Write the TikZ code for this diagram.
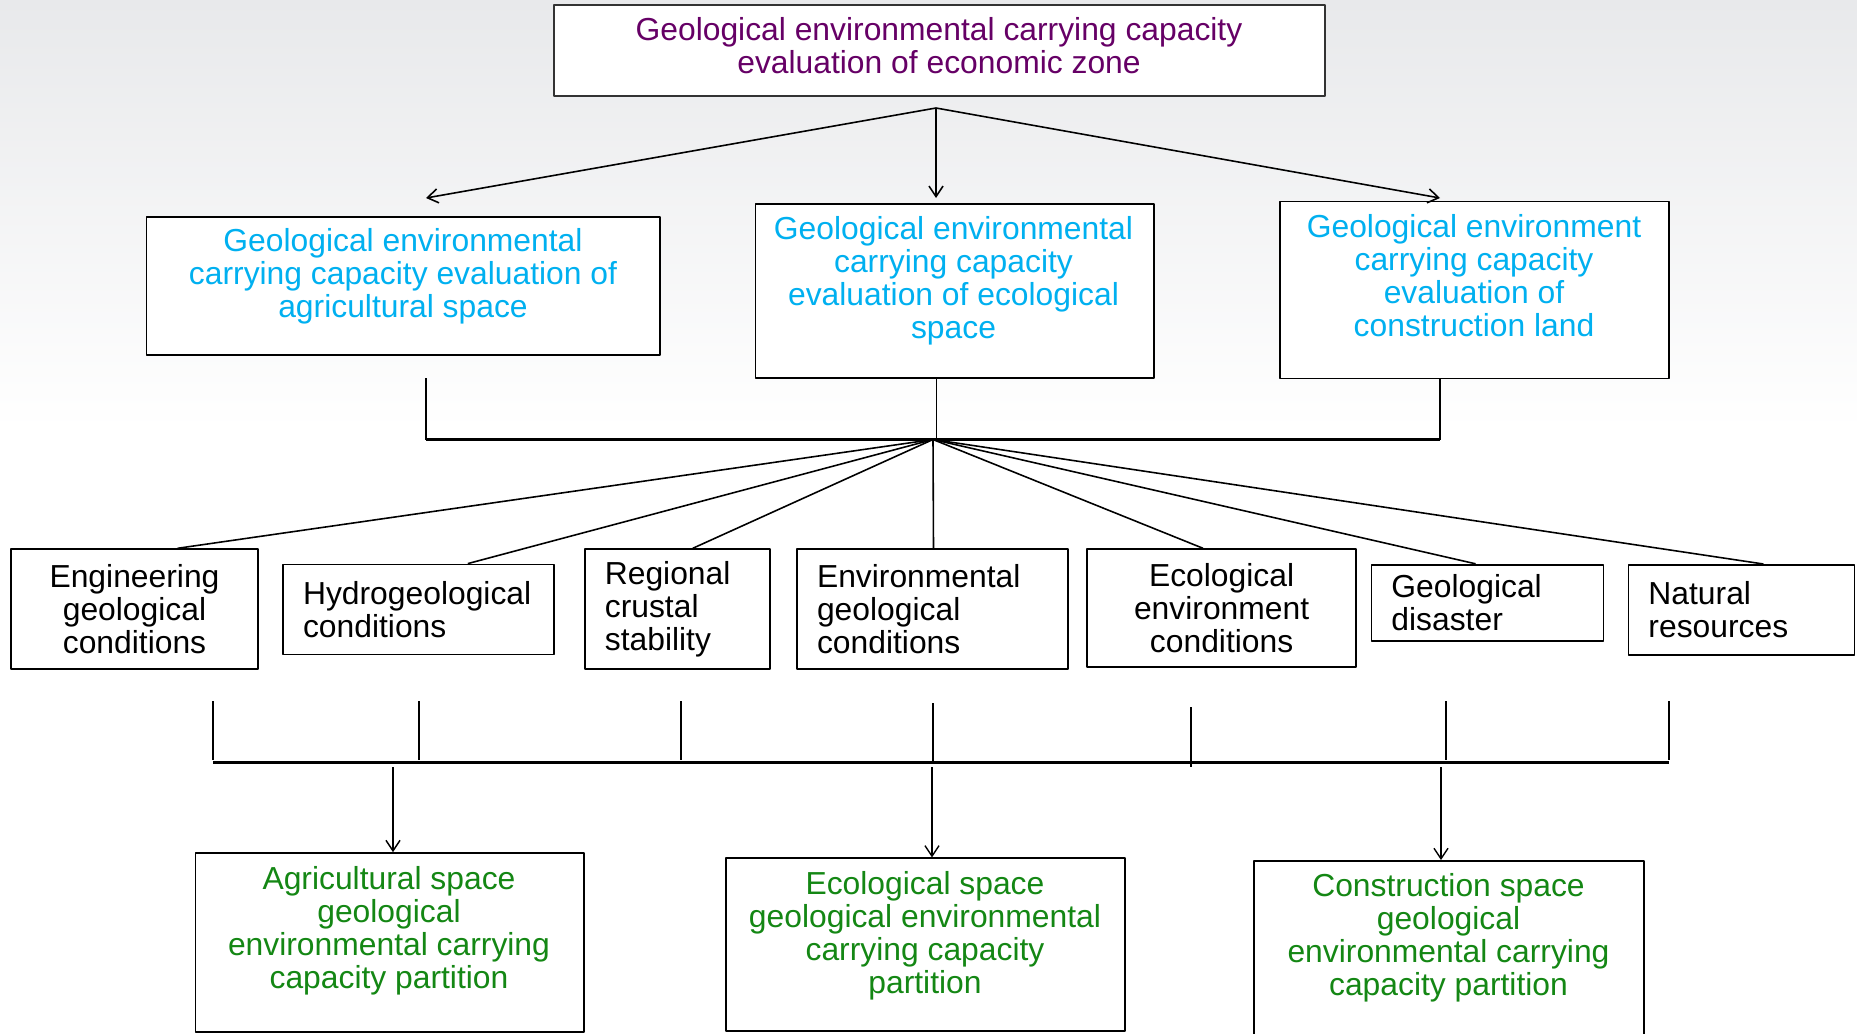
\documentclass[tikz,border=0pt]{standalone}
\usepackage{fontspec}
\setmainfont{Liberation Sans}
\usetikzlibrary{arrows.meta}
\definecolor{zonepurple}{RGB}{102,0,102}
\definecolor{evalcyan}{RGB}{0,176,240}
\definecolor{partgreen}{RGB}{20,135,20}
\definecolor{bgtop}{RGB}{232,233,235}
\tikzset{
  box/.style={draw,line width=0.5pt,fill=white,inner sep=0pt},
  txt/.style={align=center,inner sep=0pt},
  condbox/.style={draw,line width=0.5pt,fill=white,inner xsep=0.2cm,inner ysep=0pt},
  conn/.style={line width=0.45pt},
  bar/.style={line width=0.6pt},
}
\begin{document}
\begin{tikzpicture}[x=0.01cm,y=-0.01cm,>={Straight Barb[length=3pt,width=4pt]},line join=round,
  font=\fontsize{9.05pt}{9.39pt}\selectfont]
\useasboundingbox (0,0) rectangle (1857,1033);
\fill[top color=bgtop,bottom color=white] (0,0) rectangle (1857,430);
% top level
\node[box,draw=black!80,minimum width=7.71cm,minimum height=0.91cm] (zone) at (939.5,50.5) {};
\node[txt,zonepurple] (zone-t) at (939,46) {Geological environmental carrying capacity\\evaluation of economic zone};
% evaluation boxes
\node[box,minimum width=5.13cm,minimum height=1.38cm] (agri) at (403.2,285.8) {};
\node[txt,evalcyan] (agri-t) at (403,276.5) {Geological environmental\\carrying capacity evaluation of\\agricultural space};
\node[box,minimum width=3.98cm,minimum height=1.74cm] (eco) at (954.5,291) {};
\node[txt,evalcyan] (eco-t) at (953.5,281) {Geological environmental\\carrying capacity\\evaluation of ecological\\space};
\node[box,minimum width=3.89cm,minimum height=1.77cm] (cons) at (1474.3,290) {};
\node[txt,evalcyan] (cons-t) at (1474,275.5) {Geological environment\\carrying capacity\\evaluation of\\construction land};
\coordinate (fork) at (936,108);
\coordinate (agri-in) at (426,198);
\coordinate (eco-in) at (936,198);
\coordinate (cons-in) at (1440,198);
\foreach \t in {agri-in,eco-in,cons-in}
  \draw[->,conn] (fork) -- (\t);
% join above the conditions
\coordinate (fan) at (933,439.5);
\coordinate (agri-out) at (426,378);
\coordinate (eco-out) at (936.5,378);
\coordinate (cons-out) at (1440,378);
\draw[conn] (agri-out) -- (agri-out |- fan);
\draw[conn] (eco-out) -- (eco-out |- fan);
\draw[conn] (cons-out) -- (cons-out |- fan);
\draw[bar] (agri-out |- fan) -- (cons-out |- fan);
% conditions
\node[condbox,align=center,minimum width=2.475cm,minimum height=1.2cm] (eng) at (134.5,609.2) {Engineering\\geological\\conditions};
\node[condbox,align=left,text width=2.31cm,minimum height=0.9cm] (hydro) at (418.6,609.5) {Hydrogeological\\conditions};
\node[condbox,align=left,text width=1.45cm,minimum height=1.2cm] (crust) at (677.4,609.2) {Regional\\crustal\\stability};
\node[condbox,align=left,text width=2.31cm,minimum height=1.2cm] (envgeo) at (932.6,609.2) {Environmental\\geological\\conditions};
\node[condbox,align=center,minimum width=2.69cm,minimum height=1.18cm] (ecoenv) at (1221.6,608.2) {Ecological\\environment\\conditions};
\node[condbox,align=left,text width=1.92cm,minimum height=0.76cm] (disaster) at (1487.5,602.7) {Geological\\disaster};
\node[condbox,align=left,text width=1.86cm,minimum height=0.9cm] (natres) at (1741.5,609.9) {Natural\\resources};
\foreach \n/\x in {eng/177.6,hydro/467.8,crust/692.8,envgeo/933.5,ecoenv/1203,disaster/1475.6,natres/1763.4}
  \draw[conn] (fan) -- (\n.north -| \x,0);
% join below the conditions
\foreach \x/\ya/\yb in {213/701/760,419/701/760,681/701/760,933/703/763,1191/707/767,1446/701/760,1669/701/760}
  \draw[line width=0.4pt] (\x,\ya) -- (\x,\yb);
\coordinate (bar-l) at (213,762.5);
\coordinate (bar-r) at (1669,762.5);
\draw[bar] (bar-l) -- (bar-r);
% partitions
\node[box,minimum width=3.88cm,minimum height=1.787cm] (agripart) at (389.6,942.4) {};
\node[txt,partgreen] (agripart-t) at (389,930.5) {Agricultural space\\geological\\environmental carrying\\capacity partition};
\node[box,minimum width=3.99cm,minimum height=1.727cm] (ecopart) at (925.5,944.7) {};
\node[txt,partgreen] (ecopart-t) at (925,935.5) {Ecological space\\geological environmental\\carrying capacity\\partition};
\node[box,minimum width=3.9cm,minimum height=1.84cm] (conspart) at (1449,953) {};
\node[txt,partgreen] (conspart-t) at (1448.5,938) {Construction space\\geological\\environmental carrying\\capacity partition};
\foreach \n/\x in {agripart/393,ecopart/932,conspart/1441}
  \draw[->,line width=0.4pt] (\x,767) -- (\n.north -| \x,0);
\end{tikzpicture}
\end{document}
